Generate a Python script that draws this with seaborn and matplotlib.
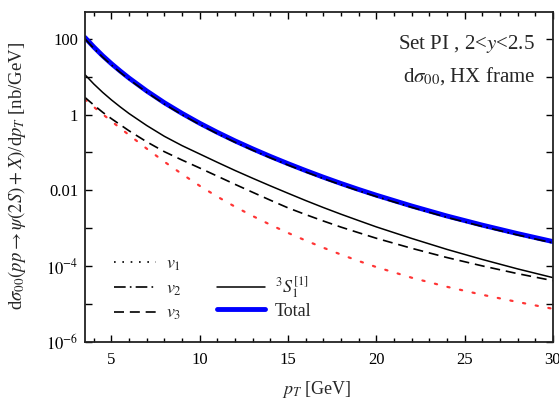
import numpy as np
import pandas as pd
import matplotlib
matplotlib.use("Agg")
import matplotlib.pyplot as plt
from matplotlib.lines import Line2D
from matplotlib.ticker import FixedLocator, MultipleLocator, NullFormatter
import seaborn as sns

# transverse momentum grid [GeV]
pt = [3.5, 4, 4.5, 5, 5.5, 6, 7, 8, 9, 10, 11, 12, 13, 14, 15, 16, 17, 18, 19,
      20, 22, 24, 26, 28, 30]

# log10 of dsigma_00/dpT [nb/GeV] for each contribution
log_total = [2.03, 1.78, 1.55, 1.34, 1.145, 0.96, 0.62, 0.31, 0.03, -0.23,
             -0.47, -0.695, -0.905, -1.105, -1.295, -1.477, -1.651, -1.817,
             -1.975, -2.126, -2.41, -2.674, -2.914, -3.138, -3.348]
log_v2 = [1.995, 1.745, 1.515, 1.305, 1.11, 0.925, 0.585, 0.275, -0.005, -0.265,
          -0.505, -0.73, -0.94, -1.14, -1.33, -1.512, -1.686, -1.852,
          -2.01, -2.161, -2.445, -2.709, -2.949, -3.173, -3.383]
log_s1 = [1.05, 0.805, 0.585, 0.385, 0.20, 0.025, -0.29, -0.575, -0.82, -1.04,
          -1.26, -1.475, -1.68, -1.88, -2.075, -2.267, -2.451, -2.627,
          -2.795, -2.961, -3.265, -3.554, -3.819, -4.068, -4.298]
log_v3 = [0.45, 0.25, 0.06, -0.11, -0.27, -0.43, -0.72, -0.98, -1.20, -1.41,
          -1.625, -1.84, -2.05, -2.258, -2.46, -2.637, -2.806, -2.967,
          -3.115, -3.261, -3.525, -3.769, -3.989, -4.193, -4.378]
log_v1 = [0.40, 0.20, 0.01, -0.175, -0.36, -0.54, -0.90, -1.245, -1.57, -1.88,
          -2.165, -2.43, -2.675, -2.905, -3.12, -3.32, -3.51, -3.69,
          -3.86, -4.02, -4.30, -4.54, -4.75, -4.94, -5.12]

x_ticks = [5, 10, 15, 20, 25, 30]
y_ticks = [1e2, 1e0, 1e-2, 1e-4, 1e-6]
y_tick_labels = ["100", "1", "0.01", r"$10^{-4}$", r"$10^{-6}$"]

sns.set_style("ticks")
plt.rcParams["font.family"] = ["Liberation Serif", "DejaVu Serif"]
plt.rcParams["mathtext.fontset"] = "stix"

df = pd.DataFrame({
    "pt": pt,
    "total": np.power(10.0, log_total),
    "v2": np.power(10.0, log_v2),
    "s1": np.power(10.0, log_s1),
    "v3": np.power(10.0, log_v3),
    "v1": np.power(10.0, log_v1),
})

fig = plt.figure(figsize=(5.59, 4.04), dpi=100)
ax = fig.add_axes([0.152, 0.153, 0.837, 0.817])

sns.lineplot(data=df, x="pt", y="v1", ax=ax, color="#ff3535", lw=1.6,
             linestyle=(0, (1, 4.8)), dash_capstyle="round")
sns.lineplot(data=df, x="pt", y="v3", ax=ax, color="black", lw=1.2,
             linestyle=(0, (6, 3.5)))
sns.lineplot(data=df, x="pt", y="s1", ax=ax, color="black", lw=1.1)
sns.lineplot(data=df, x="pt", y="total", ax=ax, color="#0000ff", lw=3.5)
sns.lineplot(data=df, x="pt", y="v2", ax=ax, color="black", lw=1.2,
             linestyle=(0, (7, 2.5, 1, 2.5)))

ax.set_yscale("log")
ax.set_xlim(3.5, 30)
ax.set_ylim(1e-6, 500)

ax.xaxis.set_major_locator(FixedLocator(x_ticks))
ax.xaxis.set_minor_locator(MultipleLocator(1))
ax.yaxis.set_major_locator(FixedLocator(y_ticks))
ax.set_yticklabels(y_tick_labels)
ax.yaxis.set_minor_locator(FixedLocator([1e1, 1e-1, 1e-3, 1e-5]))
ax.yaxis.set_minor_formatter(NullFormatter())

ax.tick_params(which="both", direction="in", top=True, right=True,
               width=1.0, labelsize=12, colors="black")
ax.tick_params(which="major", length=5)
ax.tick_params(which="minor", length=3)
ax.tick_params(axis="y", which="minor", length=5)
ax.tick_params(axis="x", pad=7)
ax.tick_params(axis="y", pad=5)
for sp in ax.spines.values():
    sp.set_linewidth(1.3)
    sp.set_color("#222222")

ax.set_xlabel(r"$p_T$ [GeV]", fontsize=13)
ax.xaxis.set_label_coords(0.496, -0.112)
ax.set_ylabel(r"d$\sigma_{00}(pp \rightarrow \psi(2S) + X)$/d$p_T$ [nb/GeV]",
              fontsize=13.5)
ax.yaxis.set_label_coords(-0.121, 0.505)

ax.text(0.962, 0.903, r"Set PI , 2<$y$<2.5", transform=ax.transAxes,
        ha="right", va="center", fontsize=15)
ax.text(0.962, 0.806, r"d$\sigma_{00}$, HX frame", transform=ax.transAxes,
        ha="right", va="center", fontsize=15)

# legend, first column: polarisation coefficients
handles_v = [
    Line2D([], [], color="black", lw=1.2, linestyle=(0, (1, 4))),
    Line2D([], [], color="black", lw=1.2, linestyle=(0, (7, 2.5, 1, 2.5))),
    Line2D([], [], color="black", lw=1.2, linestyle=(0, (6, 3.5))),
]
labels_v = [r"$v_1$", r"$v_2$", r"$v_3$"]
leg_v = ax.legend(handles_v, labels_v, loc="upper left",
                  bbox_to_anchor=(0.062, 0.262), frameon=False, fontsize=13,
                  handlelength=2.3, handletextpad=0.6, labelspacing=0.4,
                  borderpad=0, borderaxespad=0)
ax.add_artist(leg_v)

# legend, second column: colour-singlet channel and sum
handles_s = [
    Line2D([], [], color="black", lw=1.1),
    Line2D([], [], color="#0000ff", lw=3.5),
]
labels_s = [r"$^3S_1^{[1]}$", "Total"]
ax.legend(handles_s, labels_s, loc="lower left",
          bbox_to_anchor=(0.282, 0.068), frameon=False, fontsize=13,
          handlelength=2.65, handletextpad=0.55, labelspacing=0.1,
          borderpad=0, borderaxespad=0)

fig.savefig("out.png", dpi=100, facecolor="white")
